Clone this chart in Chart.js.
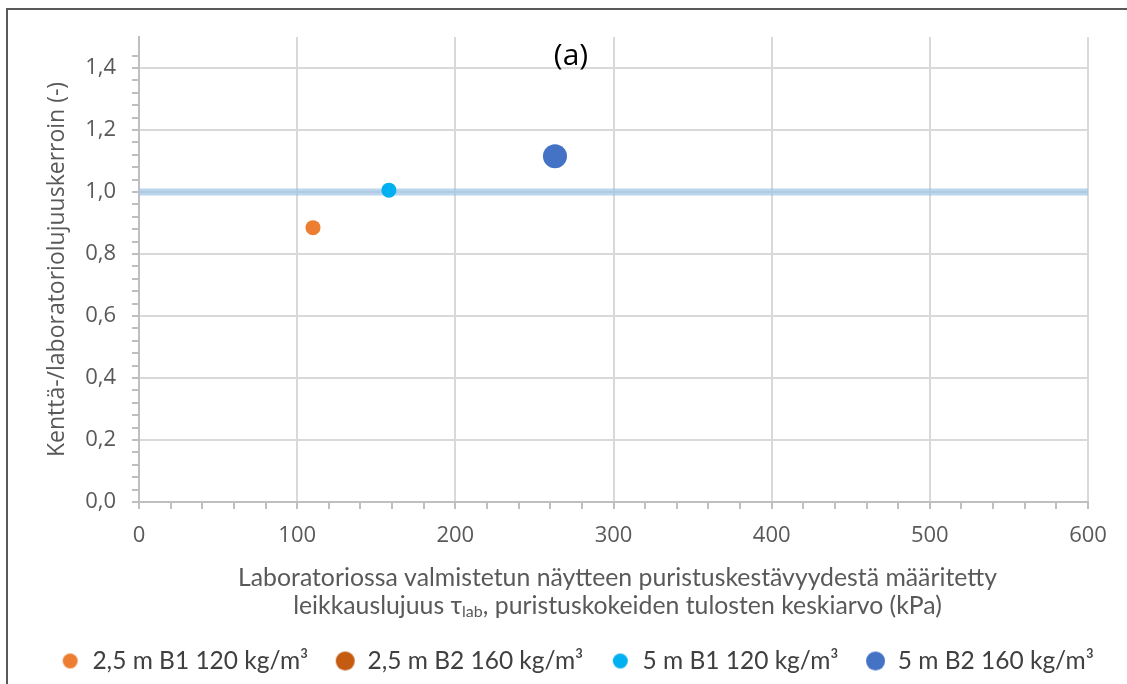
<!DOCTYPE html>
<html>
<head>
<meta charset="utf-8">
<title>Kenttä-/laboratoriolujuuskerroin</title>
<style>
  html, body { margin: 0; padding: 0; background: #ffffff; }
  #wrap { position: relative; width: 1127px; height: 684px; }
</style>
<script src="https://cdn.jsdelivr.net/npm/chart.js@4.4.1/dist/chart.umd.min.js"></script>
</head>
<body>
<div id="wrap"><canvas id="chart" width="1127" height="684"></canvas></div>
<script>
// Series: depth, binder type and binder amount
const seriesNames = ['2,5 m B1 120 kg/m³', '2,5 m B2 160 kg/m³', '5 m B1 120 kg/m³', '5 m B2 160 kg/m³'];
const seriesColors = ['#ED7D31', '#C55A11', '#00B0F0', '#4472C4'];
// Laboratory shear strength τlab (kPa) and field/lab strength ratio (-)
const seriesTauLab = [[110], [], [158], [263]];
const seriesRatio = [[0.885], [], [1.006], [1.115]];
const markerRadius = [7.5, 9.5, 7.5, 12];
const legendRadius = [7.5, 9.5, 7.5, 9.5];

// Reference level: ratio = 1,0
const refLineX = [0, 600];
const refLineY = [1.0, 1.0];

// Axis ticks and labels
const xMajorTicks = [0, 100, 200, 300, 400, 500, 600];
const xTickLabels = ['0', '100', '200', '300', '400', '500', '600'];
const yMajorTicks = [0, 0.2, 0.4, 0.6, 0.8, 1.0, 1.2, 1.4];
const yTickLabels = ['0,0', '0,2', '0,4', '0,6', '0,8', '1,0', '1,2', '1,4'];

const panelLabel = '(a)';
const yTitle = 'Kenttä-/laboratoriolujuuskerroin (-)';
const xTitleLine1 = 'Laboratoriossa valmistetun näytteen puristuskestävyydestä määritetty';
const xTitleLine2 = ['leikkauslujuus τ', 'lab', ', puristuskokeiden tulosten keskiarvo (kPa)'];

const GRID = '#d9d9d9';
const AXIS = '#bfbfbf';
const TEXT = '#595959';
const LEGEND_SHIFT = 33;

function majorIndex(list, v) {
  for (let i = 0; i < list.length; i++) if (Math.abs(list[i] - v) < 1e-6) return i;
  return -1;
}

function markerCanvas(color, r) {
  const c = document.createElement('canvas');
  const s = Math.ceil(2 * r + 2);
  c.width = s; c.height = s;
  const g = c.getContext('2d');
  g.fillStyle = color;
  g.beginPath();
  g.arc(s / 2, s / 2, r, 0, Math.PI * 2);
  g.fill();
  return c;
}

const datasets = seriesNames.map((name, i) => ({
  label: name,
  data: seriesTauLab[i].map((x, k) => ({ x, y: seriesRatio[i][k] })),
  backgroundColor: seriesColors[i],
  borderColor: seriesColors[i],
  borderWidth: 0,
  pointRadius: markerRadius[i],
  pointHoverRadius: markerRadius[i],
  pointStyle: 'circle'
}));

datasets.push({
  type: 'line',
  label: 'ref',
  data: refLineX.map((x, k) => ({ x, y: refLineY[k] })),
  borderColor: 'rgba(157,195,230,0.7)',
  borderWidth: 7,
  pointRadius: 0,
  showLine: true,
  fill: false
});

// Frame, panel label and two-line x-axis title with subscript
const decorations = {
  id: 'decorations',
  afterLayout(chart) {
    // legend row sits slightly right of the canvas centre
    if (chart.legend) {
      chart.legend.left += LEGEND_SHIFT;
      chart.legend.right += LEGEND_SHIFT;
    }
  },
  afterDraw(chart) {
    const ctx = chart.ctx;
    const area = chart.chartArea;
    ctx.save();
    // outer frame (left and top edges)
    ctx.strokeStyle = '#595959';
    ctx.lineWidth = 2;
    ctx.beginPath();
    ctx.moveTo(7, chart.height + 5);
    ctx.lineTo(7, 9);
    ctx.lineTo(chart.width + 5, 9);
    ctx.stroke();

    // panel label
    ctx.fillStyle = '#000000';
    ctx.font = '30px "Open Sans"';
    ctx.textAlign = 'center';
    ctx.textBaseline = 'middle';
    ctx.fillText(panelLabel, 571, 56);

    // x-axis title
    const cx = (area.left + area.right) / 2 + 4;
    const mainFont = '24.8px Lato';
    const subFont = '16px Lato';
    ctx.fillStyle = TEXT;
    ctx.font = mainFont;
    ctx.textAlign = 'center';
    ctx.fillText(xTitleLine1, cx, 578);

    ctx.font = mainFont;
    const w0 = ctx.measureText(xTitleLine2[0]).width;
    const w2 = ctx.measureText(xTitleLine2[2]).width;
    ctx.font = subFont;
    const w1 = ctx.measureText(xTitleLine2[1]).width;
    let x = cx - (w0 + w1 + w2) / 2;
    const y2 = 606;
    ctx.textAlign = 'left';
    ctx.font = mainFont;
    ctx.fillText(xTitleLine2[0], x, y2);
    x += w0;
    ctx.font = subFont;
    ctx.fillText(xTitleLine2[1], x, y2 + 6);
    x += w1;
    ctx.font = mainFont;
    ctx.fillText(xTitleLine2[2], x, y2);
    ctx.restore();
  }
};

new Chart(document.getElementById('chart'), {
  type: 'scatter',
  data: { datasets },
  options: {
    responsive: false,
    animation: false,
    devicePixelRatio: 1,
    layout: { padding: { left: 0, right: 39, top: 37, bottom: 0.75 } },
    plugins: {
      tooltip: { enabled: false },
      legend: {
        position: 'bottom',
        labels: {
          usePointStyle: true,
          boxWidth: 20,
          boxHeight: 20,
          padding: 27,
          color: '#404040',
          font: { family: 'Lato', size: 24.5 },
          generateLabels(chart) {
            const items = Chart.defaults.plugins.legend.labels.generateLabels(chart);
            return items
              .filter(it => it.datasetIndex < seriesNames.length)
              .map(it => {
                it.pointStyle = markerCanvas(seriesColors[it.datasetIndex], legendRadius[it.datasetIndex]);
                it.lineWidth = 0;
                return it;
              });
          }
        }
      }
    },
    scales: {
      x: {
        type: 'linear',
        min: 0,
        max: 600,
        afterFit(scale) { scale.height = 119.75; },
        ticks: {
          stepSize: 20,
          autoSkip: false,
          maxRotation: 0,
          padding: 14,
          color: TEXT,
          font: { family: 'Open Sans', size: 22 },
          callback(v) { const i = majorIndex(xMajorTicks, v); return i >= 0 ? xTickLabels[i] : ''; }
        },
        grid: {
          lineWidth: 2,
          tickLength: 7,
          color: c => (c.tick && majorIndex(xMajorTicks, c.tick.value) >= 0) ? GRID : 'rgba(0,0,0,0)',
          tickColor: AXIS,
          tickWidth: 2
        },
        border: { color: AXIS, width: 2 }
      },
      y: {
        type: 'linear',
        min: 0,
        max: 1.5,
        afterFit(scale) { scale.width = 139; },
        ticks: {
          stepSize: 0.04,
          autoSkip: false,
          padding: 16,
          color: TEXT,
          font: { family: 'Open Sans', size: 22 },
          callback(v) { const i = majorIndex(yMajorTicks, v); return i >= 0 ? yTickLabels[i] : ''; }
        },
        grid: {
          lineWidth: 2,
          tickLength: 7,
          color: c => (c.tick && majorIndex(yMajorTicks, c.tick.value) >= 0) ? GRID : 'rgba(0,0,0,0)',
          tickColor: c => (c.tick && c.tick.value > 1.49) ? 'rgba(0,0,0,0)' : AXIS,
          tickWidth: 2
        },
        border: { color: AXIS, width: 2 },
        title: {
          display: true,
          text: yTitle,
          color: TEXT,
          font: { family: 'Open Sans', size: 23 },
          padding: { top: 44, bottom: 0 }
        }
      }
    }
  },
  plugins: [decorations]
});
</script>
</body>
</html>
